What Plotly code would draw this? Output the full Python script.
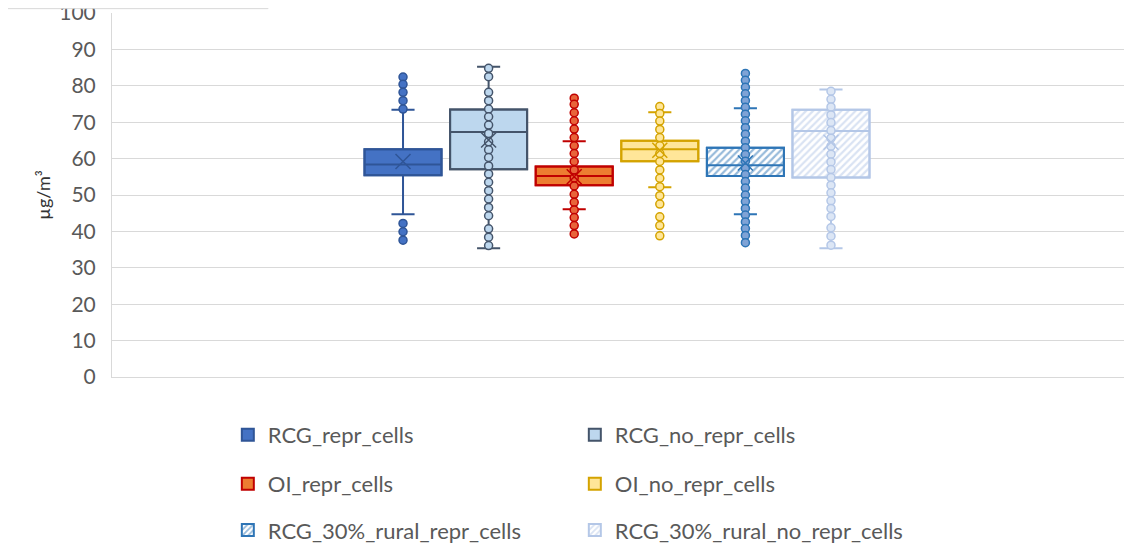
import plotly.graph_objects as go

# series
names = ["RCG_repr_cells", "RCG_no_repr_cells", "OI_repr_cells",
         "OI_no_repr_cells", "RCG_30%_rural_repr_cells", "RCG_30%_rural_no_repr_cells"]
q1 = [55.4, 57.1, 52.7, 59.3, 55.2, 54.8]
median = [58.4, 67.3, 55.2, 62.6, 58.2, 67.6]
q3 = [62.6, 73.5, 57.8, 64.9, 63.0, 73.4]
lowerfence = [44.7, 35.4, 46.1, 52.1, 44.7, 35.4]
upperfence = [73.4, 85.2, 64.8, 72.7, 73.8, 79.0]
mean = [59.2, 65.1, 55.0, 62.3, 58.8, 64.5]

points = [
    [82.4, 80.4, 78.2, 75.9, 73.6, 42.2, 39.9, 37.6],
    [84.8, 82.5, 78.2, 75.9, 73.6, 71.5, 69.2, 66.9, 64.6, 62.4, 60.3, 58.0, 55.8,
     53.5, 51.2, 48.9, 46.6, 44.3, 40.7, 38.4, 36.1],
    [76.6, 74.9, 72.6, 70.4, 68.1, 65.8, 63.5, 61.4, 59.2, 56.9, 54.7, 52.5, 50.2,
     48.0, 45.9, 43.8, 41.6, 39.3],
    [74.3, 72.4, 70.3, 68.0, 65.8, 63.5, 61.4, 59.2, 56.9, 54.6, 52.3, 49.8, 47.5,
     44.0, 41.6, 38.8],
    [83.4, 81.5, 79.6, 77.8, 75.9, 74.1, 72.2, 70.4, 68.5, 66.7, 64.8, 63.0, 61.1,
     59.3, 57.4, 55.6, 53.7, 51.9, 50.0, 48.2, 46.3, 44.5, 42.6, 40.8, 38.9, 36.9],
    [78.5, 76.3, 74.2, 72.0, 69.9, 67.7, 65.6, 63.4, 61.2, 59.1, 57.0, 54.8, 52.7,
     50.6, 48.4, 46.3, 44.1, 41.0, 38.7, 36.2],
]

# styles
fills = ["#4472C4", "#BDD7EE", "#ED7D31", "#FFE699", "white", "white"]
lines = ["#2F5597", "#44546A", "#C00000", "#D4A300", "#2E75B6", "#B4C7E7"]
hatch = [None, None, None, None, "#2E75B6", "#B4C7E7"]
pt_fill = ["#4472C4", "#BDD7EE", "#E8643A", "#FFE699", "#7FA3D6", "#DCE6F5"]
legends = ["legend", "legend", "legend2", "legend2", "legend3", "legend3"]

fig = go.Figure()

# box bodies as bars (so the hatched ones can carry a pattern) - also legend
for i, n in enumerate(names):
    pat = dict(shape="/", fgcolor=hatch[i], bgcolor="white", size=5, solidity=0.45) if hatch[i] else None
    fig.add_trace(go.Bar(
        x=[i], base=[q1[i]], y=[q3[i] - q1[i]], width=0.9, name=n,
        marker=dict(color=fills[i], line=dict(color=lines[i], width=2), pattern=pat),
        legend=legends[i], hoverinfo="skip",
    ))

for i, n in enumerate(names):
    fig.add_trace(go.Box(
        x=[i], q1=[q1[i]], median=[median[i]], q3=[q3[i]],
        lowerfence=[lowerfence[i]], upperfence=[upperfence[i]],
        width=0.9, whiskerwidth=0.3, fillcolor="rgba(0,0,0,0)",
        line=dict(color=lines[i], width=2), showlegend=False, boxpoints=False,
    ))
    fig.add_trace(go.Scatter(
        x=[i] * len(points[i]), y=points[i], mode="markers", showlegend=False,
        marker=dict(size=8, color=pt_fill[i], line=dict(color=lines[i], width=1.5)),
    ))
    fig.add_trace(go.Scatter(
        x=[i], y=[mean[i]], mode="markers", showlegend=False,
        marker=dict(symbol="x-thin", size=15, line=dict(color=lines[i], width=1.5)),
    ))

leg = dict(orientation="h", x=0.114, xanchor="left", yanchor="middle",
           entrywidth=302, entrywidthmode="pixels",
           font=dict(family="Lato", size=22, color="#595959"), bgcolor="rgba(0,0,0,0)")

# page body has an 8px margin, so the figure is a bit smaller than the window
fig.update_layout(
    width=1124, height=536,
    margin=dict(l=104, r=4, t=5, b=167, autoexpand=False),
    paper_bgcolor="white", plot_bgcolor="white",
    barmode="overlay",
    font=dict(family="Lato", color="#595959"),
    legend=dict(leg, y=-0.159),
    legend2=dict(leg, y=-0.294),
    legend3=dict(leg, y=-0.421),
    xaxis=dict(range=[-3.40, 8.47], showticklabels=False, showgrid=False, zeroline=False,
               showline=True, linecolor="#D9D9D9", linewidth=1, ticks=""),
    yaxis=dict(range=[0, 100], dtick=10, gridcolor="#D9D9D9", gridwidth=1, zeroline=False,
               showline=True, linecolor="#D9D9D9", linewidth=1, automargin=False,
               ticklabeloverflow="allow",
               tickfont=dict(family="Lato", size=21, color="#595959"), ticklabelstandoff=11),
    annotations=[dict(text="µg/m³", xref="paper", yref="paper", x=-0.081, y=0.5,
                      textangle=-90, showarrow=False,
                      font=dict(family="Lato", size=18, color="#333333"))],
    shapes=[dict(type="rect", xref="paper", yref="paper", x0=-0.11, x1=0.1535, y0=1.012, y1=1.2,
                 line=dict(color="#D9D9D9", width=1), fillcolor="rgba(0,0,0,0)", layer="above")],
)

fig.write_html("out.html")
